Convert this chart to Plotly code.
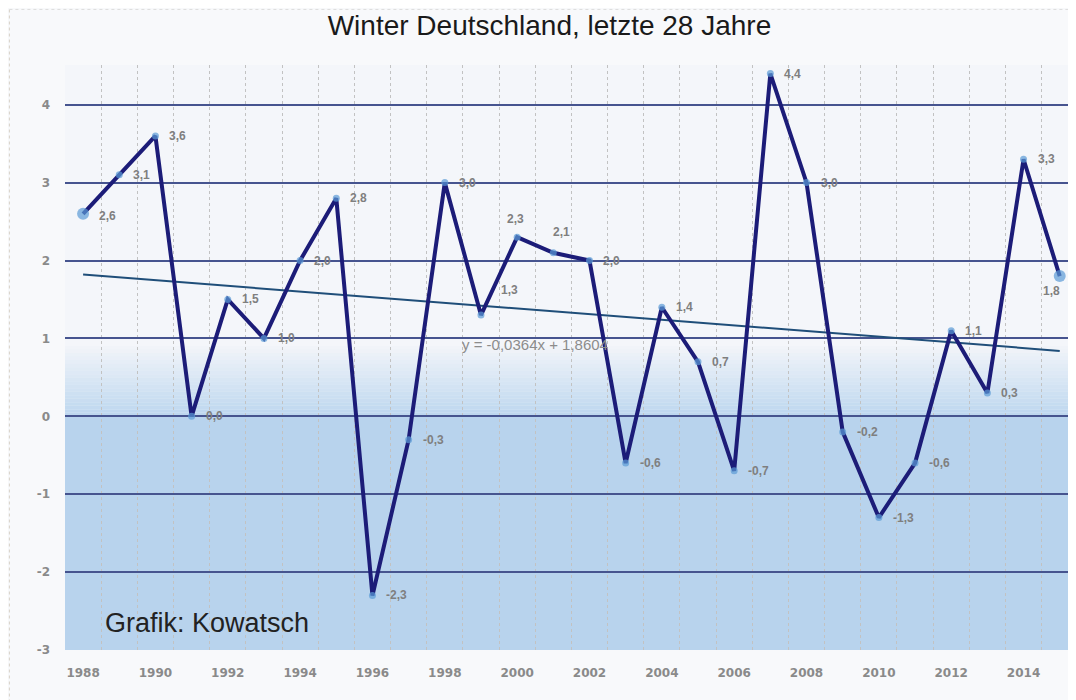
import plotly.graph_objects as go

# ---- data ----
years = list(range(1988, 2016))
values = [2.6, 3.1, 3.6, 0.0, 1.5, 1.0, 2.0, 2.8, -2.3, -0.3, 3.0, 1.3, 2.3, 2.1,
          2.0, -0.6, 1.4, 0.7, -0.7, 4.4, 3.0, -0.2, -1.3, -0.6, 1.1, 0.3, 3.3, 1.8]
trend_years = [1988, 2015]
trend_values = [1.82, 0.84]
x_tick_labels = [str(y) for y in range(1988, 2016, 2)]
y_tick_values = [-3, -2, -1, 0, 1, 2, 3, 4]
y_tick_labels = ["-3", "-2", "-1", "0", "1", "2", "3", "4"]
title_text = "Winter Deutschland, letzte 28 Jahre"
equation_text = "y = -0,0364x + 1,8604"
credit_text = "Grafik: Kowatsch"

# ---- styles (label placement: anchor, x shift px, y shift px) ----
R = ("left", 12, 0)
label_style = [("left", 14, -2), R, R, R, R, R, R, R, R, R,
               R, ("left", 18, 25), ("center", -2, 18), ("center", 8, 21), R,
               R, R, R, R, R,
               R, R, R, R, R,
               R, R, ("center", -8, -15)]
marker_sizes = [12] + [7] * (len(values) - 2) + [12]
label_font = dict(family="Liberation Sans", size=12, color="#7f7f7f", weight="bold")

fig = go.Figure()

# background gradient (decorative): white -> light blue towards zero, solid below zero
n_bands = 20
top, bottom = 0.9, 0.0
for i in range(n_bands):
    y0 = top - (top - bottom) * i / n_bands
    y1 = top - (top - bottom) * (i + 1) / n_bands
    a = (i + 1) / n_bands
    fig.add_shape(type="rect", xref="paper", yref="y", x0=0, x1=1, y0=y1, y1=y0,
                  fillcolor=f"rgba(186,213,238,{a*0.95:.3f})", line_width=0, layer="below")
fig.add_shape(type="rect", xref="paper", yref="y", x0=0, x1=1, y0=-3, y1=0,
              fillcolor="rgba(184,211,237,1)", line_width=0, layer="below")

# decorative frame lines
fig.add_shape(type="line", xref="paper", yref="paper", x0=-0.055, x1=-0.055, y0=-0.1, y1=1.097,
              line=dict(color="#d8d2c8", width=1, dash="dot"))
fig.add_shape(type="line", xref="paper", yref="paper", x0=-0.055, x1=1.0, y0=1.095, y1=1.095,
              line=dict(color="#dcdcdc", width=1, dash="dot"))

# trend line
fig.add_trace(go.Scatter(x=trend_years, y=trend_values, mode="lines",
                         line=dict(color="#1f4e79", width=2), hoverinfo="skip",
                         showlegend=False))

# main series
fig.add_trace(go.Scatter(
    x=years, y=values, mode="lines+markers",
    line=dict(color="#1c1c78", width=4),
    marker=dict(color="#5b9bd5", size=marker_sizes, line=dict(width=0)),
    showlegend=False, cliponaxis=False,
))

# data labels
for yr, v, (anchor, dx, dy) in zip(years, values, label_style):
    fig.add_annotation(x=yr, y=v, xref="x", yref="y", text=f"{v:.1f}".replace(".", ","),
                       showarrow=False, xanchor=anchor, yanchor="middle",
                       xshift=dx, yshift=dy, font=label_font)

fig.add_annotation(x=2000.5, y=0.92, xref="x", yref="y", text=equation_text, showarrow=False,
                   font=dict(family="Liberation Sans", size=15, color="#8c8c8c"))
fig.add_annotation(x=1988.55, y=-2.65, xref="x", yref="y", text=credit_text, showarrow=False,
                   xanchor="left", font=dict(family="Liberation Sans", size=27, color="#222222"))

fig.update_layout(
    width=1068, height=692,
    margin=dict(l=57, r=0, t=57, b=50),
    paper_bgcolor="#f8f9fb",
    plot_bgcolor="#f4f6fa",
    title=dict(text=title_text, x=0.507, xanchor="center", y=0.975, yanchor="middle",
               font=dict(family="Liberation Sans", size=28, color="#1a1a1a")),
    xaxis=dict(range=[1987.5, 2015.45], tickvals=[int(t) for t in x_tick_labels],
               ticktext=x_tick_labels, showgrid=False, zeroline=False,
               ticklabelstandoff=14,
               tickfont=dict(family="DejaVu Sans", size=12, color="#8a8a8a", weight="bold"),
               minor=dict(tickvals=[y - 0.5 for y in years] + [2015.5], showgrid=True,
                          gridcolor="#c2c2c2", griddash="dot", gridwidth=1)),
    yaxis=dict(range=[-3, 4.51], tickvals=y_tick_values, ticktext=y_tick_labels, showgrid=True,
               gridcolor="#46548f", gridwidth=2, zeroline=False,
               ticklabelstandoff=14,
               tickfont=dict(family="DejaVu Sans", size=12, color="#8a8a8a", weight="bold")),
)

fig.write_html("out.html")
